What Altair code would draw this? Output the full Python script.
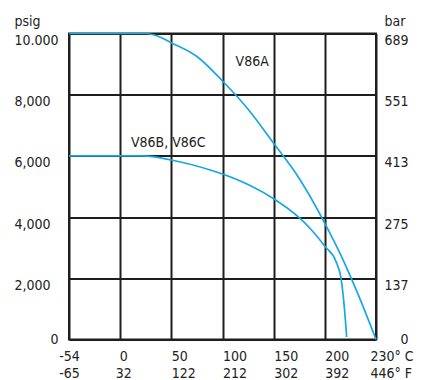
import altair as alt
import pandas as pd

# ---- data ----
a_temp = [-54, 25, 37, 50, 75, 100, 125, 150, 175, 200, 210, 220, 230]
a_psi = [10000, 10000, 9910, 9699, 9248, 8448, 7526, 6412, 5261, 3797, 2686, 1408, 0]

b_temp = [-54, 22, 50, 88, 100, 126, 150, 175, 187, 200, 206.6, 209.5, 211.4, 212.8]
b_psi = [6000, 6000, 5866, 5540, 5408, 5049, 4601, 3980, 3578, 3050, 2540, 2000, 1072, 80]

series_names = ["V86A", "V86B, V86C"]
label_temp = [129, 47]
label_psi = [8940, 6290]

c_ticks = [-54, 0, 50, 100, 150, 200, 230]
c_labels = ["-54", "0", "50", "100", "150", "200", "230° C"]
f_labels = ["-65", "32", "122", "212", "302", "392", "446° F"]

psi_ticks = [0, 2000, 4000, 6000, 8000, 10000]
psi_labels = ["0", "2,000", "4,000", "6,000", "8,000", "10.000"]
bar_labels = ["0", "137", "275", "413", "551", "689"]

# ---- tables ----
rows = []
for t, p in zip(a_temp, a_psi):
    rows.append({"series": "V86A", "temp": t, "psi": p})
for t, p in zip(b_temp, b_psi):
    rows.append({"series": "V86B", "temp": t, "psi": p})
lines_df = pd.DataFrame(rows)
labels_df = pd.DataFrame({"name": series_names, "temp": label_temp, "psi": label_psi})

W, H = 307, 306
col = W / (len(c_ticks) - 1)
x_range = [round(i * col, 3) for i in range(len(c_ticks))]


def ternary(values, labels, default="''"):
    expr = default
    for v, l in reversed(list(zip(values, labels))):
        expr = f"datum.value == {v} ? {l} : ({expr})"
    return expr


x_label_expr = ternary(c_ticks, [f"['{c}', '{f}']" for c, f in zip(c_labels, f_labels)])
y_left_expr = ternary(psi_ticks, [f"'{l}'" for l in psi_labels])
y_right_expr = ternary(psi_ticks, [f"'{l}'" for l in bar_labels])

FONT = "DejaVu Sans Condensed, DejaVu Sans"
TXT = "#222222"
BLUE = "#16a8e3"

x_scale = alt.Scale(domain=c_ticks, range=x_range, nice=False, zero=False)

x_axis = alt.Axis(
    values=c_ticks, labelExpr=x_label_expr, title=None, ticks=False, domain=False,
    grid=True, gridColor="#1e1e1e", gridWidth=2,
    labelAlign={"condition": {"test": "datum.value >= 50", "value": "left"}, "value": "center"},
    labelOffset={"condition": [
        {"test": "datum.value == 0", "value": 3},
        {"test": "datum.value == 230", "value": -6},
    ], "value": 0},
    labelBaseline="top", labelPadding=10, labelLineHeight=16.5,
    labelFlush=False, labelOverlap=False, labelBound=False,
    labelFont=FONT, labelFontSize=14, labelColor=TXT,
)

y_left_axis = alt.Axis(
    orient="left", values=psi_ticks, labelExpr=y_left_expr, ticks=False, domain=False,
    grid=True, gridColor="#1e1e1e", gridWidth=2,
    labelAlign={"condition": {"test": "datum.value == 0", "value": "right"}, "value": "left"},
    labelPadding={"condition": {"test": "datum.value == 0", "value": 11}, "value": 55},
    labelBaseline={"condition": {"test": "datum.value == 0", "value": "middle"}, "value": "top"},
    labelFlush=False, labelOverlap=False,
    labelFont=FONT, labelFontSize=14, labelColor=TXT,
    title="psig", titleAngle=0, titleAlign="left", titleBaseline="alphabetic",
    titleX=-55, titleY=-8.5, titleFont=FONT, titleFontSize=14,
    titleFontWeight="normal", titleColor=TXT,
)

y_right_axis = alt.Axis(
    orient="right", values=psi_ticks, labelExpr=y_right_expr, ticks=False, domain=False,
    grid=False,
    labelAlign="left",
    labelPadding={"condition": {"test": "datum.value == 0", "value": 24}, "value": 8},
    labelBaseline={"condition": {"test": "datum.value == 0", "value": "middle"}, "value": "top"},
    labelFlush=False, labelOverlap=False,
    labelFont=FONT, labelFontSize=14, labelColor=TXT,
    title="bar", titleAngle=0, titleAlign="left", titleBaseline="alphabetic",
    titleX=8, titleY=-8.5, titleFont=FONT, titleFontSize=14,
    titleFontWeight="normal", titleColor=TXT,
)

lines = alt.Chart(lines_df).mark_line(
    color=BLUE, strokeWidth=1.7, interpolate="monotone"
).encode(
    x=alt.X("temp:Q", scale=x_scale, axis=x_axis),
    y=alt.Y("psi:Q", scale=alt.Scale(domain=[0, 10000], nice=False), axis=y_left_axis),
    detail="series:N",
)

texts = alt.Chart(labels_df).mark_text(
    font=FONT, fontSize=14, color=TXT, align="center", baseline="alphabetic"
).encode(
    x=alt.X("temp:Q", scale=x_scale, axis=x_axis),
    y=alt.Y("psi:Q", scale=alt.Scale(domain=[0, 10000], nice=False), axis=y_right_axis),
    text="name:N",
)

chart = alt.layer(lines, texts).resolve_scale(y="independent").properties(
    width=W, height=H,
    autosize=alt.AutoSizeParams(type="none"),
    padding={"left": 61, "top": 25.5, "right": 38, "bottom": 40.5},
    background="white",
).configure_view(stroke="#1e1e1e", strokeWidth=2)

chart.save("out.html", embed_options={"renderer": "svg", "actions": False})
